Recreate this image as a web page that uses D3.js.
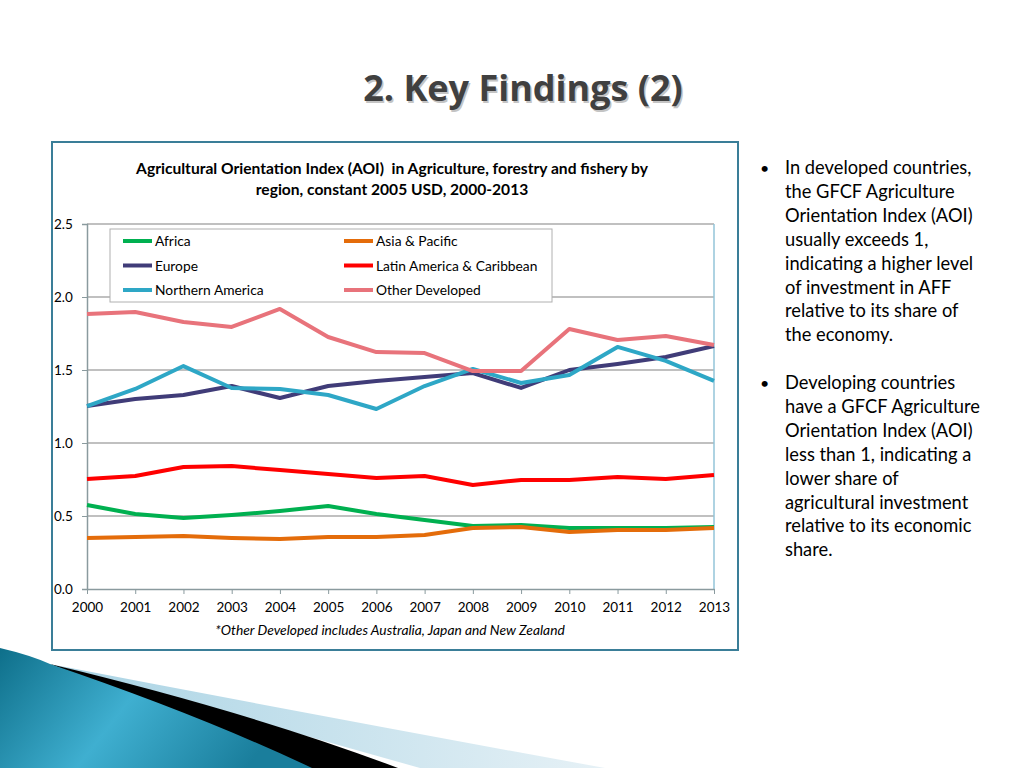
<!DOCTYPE html>
<html><head><meta charset="utf-8">
<script src="https://cdn.jsdelivr.net/npm/d3@7"></script>
<style>
html,body{margin:0;padding:0;background:#fff;}
svg{display:block;}
text{white-space:pre;}
</style></head>
<body>
<svg id="c" width="1024" height="768"></svg>
<script>
const years = [2000,2001,2002,2003,2004,2005,2006,2007,2008,2009,2010,2011,2012,2013];
const seriesNames = ["Africa","Asia & Pacific","Europe","Latin America & Caribbean","Northern America","Other Developed"];
const seriesColors = ["#00B050","#E46C0A","#403C78","#FF0000","#2EA7C6","#E8737B"];
const africa   = [0.575,0.514,0.486,0.507,0.534,0.568,0.514,0.473,0.432,0.438,0.418,0.418,0.418,0.425];
const asiaPac  = [0.349,0.356,0.363,0.349,0.342,0.356,0.356,0.370,0.418,0.425,0.390,0.404,0.404,0.418];
const europe   = [1.253,1.301,1.329,1.390,1.308,1.390,1.425,1.452,1.479,1.377,1.500,1.541,1.589,1.664];
const latinAm  = [0.753,0.774,0.836,0.842,0.815,0.788,0.760,0.774,0.712,0.747,0.747,0.767,0.753,0.781];
const northAm  = [1.253,1.370,1.527,1.377,1.370,1.329,1.233,1.390,1.507,1.411,1.466,1.658,1.562,1.425];
const otherDev = [1.884,1.897,1.829,1.795,1.918,1.726,1.623,1.616,1.493,1.493,1.781,1.705,1.733,1.671];
const seriesValues = [africa, asiaPac, europe, latinAm, northAm, otherDev];
const yTicks = [0,0.5,1.0,1.5,2.0,2.5];
const pageTitle = "2. Key Findings (2)";
const chartTitle = ["Agricultural Orientation Index (AOI)  in Agriculture, forestry and fishery by","region, constant 2005 USD, 2000-2013"];
const footnote = "*Other Developed includes Australia, Japan and New Zealand";
const bullets = [
 ["In developed countries,","the GFCF Agriculture","Orientation Index (AOI)","usually exceeds 1,","indicating a higher level","of investment in AFF","relative to its share of","the economy."],
 ["Developing countries","have a GFCF Agriculture","Orientation Index (AOI)","less than 1, indicating a","lower share of","agricultural investment","relative to its economic","share."]
];

const svg = d3.select("#c");
const FONT = "Lato, 'Open Sans', sans-serif";

// Decoration bottom-left
const defs = svg.append("defs");
const g1 = defs.append("linearGradient").attr("id","tealg").attr("x1","0").attr("y1","0").attr("x2","1").attr("y2","0.3");
g1.append("stop").attr("offset","0").attr("stop-color","#0E6F8A");
g1.append("stop").attr("offset","0.5").attr("stop-color","#3FAFD0");
g1.append("stop").attr("offset","1").attr("stop-color","#1A7E9C");
const g2 = defs.append("linearGradient").attr("id","lightg").attr("x1","0").attr("y1","0").attr("x2","1").attr("y2","0");
g2.append("stop").attr("offset","0").attr("stop-color","#A9D3E4");
g2.append("stop").attr("offset","1").attr("stop-color","#E6F1F6");
svg.append("path").attr("d","M55,665 Q330,718 605,768 L420,768 Z").attr("fill","url(#lightg)");
svg.append("path").attr("d","M50,664 Q250,712 398,768 L305,768 Z").attr("fill","#000");
svg.append("path").attr("d","M0,648 Q30,655 50,664 Q200,715 312,768 L0,768 Z").attr("fill","url(#tealg)");

// Page title
svg.append("text").attr("x",523).attr("y",101).attr("text-anchor","middle")
  .attr("font-family","'Open Sans', sans-serif").attr("font-weight","bold").attr("font-size",36)
  .attr("fill","#c4c4c4").attr("transform","translate(1.5,1.5)").text(pageTitle);
svg.append("text").attr("x",523).attr("y",101).attr("text-anchor","middle")
  .attr("font-family","'Open Sans', sans-serif").attr("font-weight","bold").attr("font-size",36)
  .attr("fill","#404040").text(pageTitle);

// Outer chart box
svg.append("rect").attr("x",52).attr("y",142).attr("width",686).attr("height",508)
  .attr("fill","#fff").attr("stroke","#3A7E98").attr("stroke-width",2);

// Chart title
chartTitle.forEach((t,i)=>{
  svg.append("text").attr("x",392).attr("y",174+i*21).attr("text-anchor","middle")
    .attr("font-family",FONT).attr("font-weight","bold").attr("font-size",15.6).attr("fill","#000").text(t);
});

const x = d3.scaleLinear().domain([2000,2013]).range([87,714]);
const y = d3.scaleLinear().domain([0,2.5]).range([589,224]);

// gridlines
svg.append("g").selectAll("line").data(yTicks.filter(d=>d>0)).join("line")
  .attr("x1",87).attr("x2",714).attr("y1",d=>y(d)).attr("y2",d=>y(d))
  .attr("stroke","#ABABAB").attr("stroke-width",1.5);
// right border of plot area
svg.append("line").attr("x1",714).attr("x2",714).attr("y1",224).attr("y2",589).attr("stroke","#93C4D8").attr("stroke-width",1.5);

// y axis
const yAxis = svg.append("g").attr("transform","translate(87,0)")
  .call(d3.axisLeft(y).tickValues(yTicks).tickFormat(d3.format(".1f")).tickSize(5).tickPadding(3));
yAxis.select(".domain").attr("stroke","#8A9A9E").attr("stroke-width",1.5);
yAxis.selectAll(".tick line").attr("stroke","#8A9A9E");
yAxis.selectAll(".tick text").attr("font-family",FONT).attr("font-size",13.5).attr("fill","#000")
  .attr("text-anchor","start").attr("x",-33);

// x axis
const xAxis = svg.append("g").attr("transform","translate(0,589)")
  .call(d3.axisBottom(x).tickValues(years).tickFormat(d3.format("d")).tickSize(5).tickPadding(8).tickSizeOuter(0));
xAxis.select(".domain").attr("stroke","#8A9A9E").attr("stroke-width",1.5);
xAxis.selectAll(".tick line").attr("stroke","#8A9A9E");
xAxis.selectAll(".tick text").attr("font-family",FONT).attr("font-size",13.5).attr("fill","#000");

// lines
const line = d3.line().x((d,i)=>x(years[i])).y(d=>y(d));
seriesValues.forEach((vals,k)=>{
  svg.append("path").datum(vals).attr("d",line).attr("fill","none")
    .attr("stroke",seriesColors[k]).attr("stroke-width",4).attr("stroke-linejoin","round");
});

// legend
svg.append("rect").attr("x",110).attr("y",229).attr("width",442).attr("height",73)
  .attr("fill","#fff").attr("stroke","#B0B0B0").attr("stroke-width",1);
seriesNames.forEach((n,i)=>{
  const col = i%2, row = Math.floor(i/2);
  const lx = col===0 ? 123 : 344, ly = 241 + row*24.5;
  svg.append("line").attr("x1",lx).attr("x2",lx+29).attr("y1",ly).attr("y2",ly)
    .attr("stroke",seriesColors[i]).attr("stroke-width",4);
  svg.append("text").attr("x",lx+32).attr("y",ly+5).attr("font-family",FONT).attr("font-size",13.8).attr("fill","#000").text(n);
});

// footnote
svg.append("text").attr("x",390).attr("y",635).attr("text-anchor","middle").attr("font-family",FONT)
  .attr("font-style","italic").attr("font-size",13.8).attr("fill","#000").text(footnote);

// bullets
const bStart = [174, 389];
bullets.forEach((lines,b)=>{
  svg.append("text").attr("x",760).attr("y",bStart[b]).attr("font-family",FONT).attr("font-size",16).attr("fill","#000").text("•");
  lines.forEach((t,i)=>{
    svg.append("text").attr("x",785).attr("y",bStart[b]+i*23.9).attr("font-family",FONT).attr("font-size",18.3).attr("fill","#000").text(t);
  });
});
</script>
</body></html>
